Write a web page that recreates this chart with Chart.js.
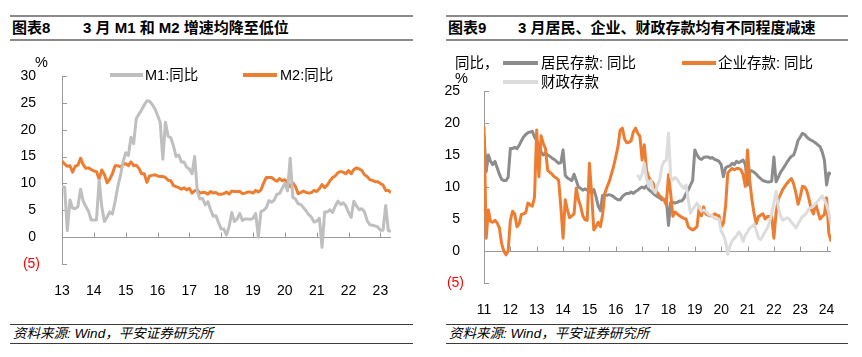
<!DOCTYPE html>
<html><head><meta charset="utf-8">
<script src="https://cdn.jsdelivr.net/npm/chart.js@4"></script>
<style>
html,body{margin:0;padding:0;background:#fff;}
#wrap{position:relative;width:862px;height:357px;overflow:hidden;font-family:"Liberation Sans","Noto Sans CJK SC",sans-serif;color:#000;}
.abs{position:absolute;white-space:nowrap;}
.rule{position:absolute;height:2px;background:#8a8a8a;}
.frule{position:absolute;height:1px;background:#3c3c3c;}
.ttl{position:absolute;font-size:15px;font-weight:bold;line-height:18px;top:19px;white-space:nowrap;}
.foot{position:absolute;font-size:13.5px;font-style:italic;line-height:16px;top:326px;white-space:nowrap;color:#000;}
.lg{position:absolute;font-size:14.5px;line-height:18px;white-space:nowrap;}
.ln{position:absolute;height:4px;}
canvas{position:absolute;top:0;}
</style></head>
<body><div id="wrap">
<div class="rule" style="left:10px;width:403px;top:15px"></div>
<div class="rule" style="left:10px;width:403px;top:39px"></div>
<div class="rule" style="left:446px;width:402px;top:15px"></div>
<div class="rule" style="left:446px;width:402px;top:39px"></div>
<div class="ttl" style="left:12px">图表8</div>
<div class="ttl" style="left:83px">3 月 M1 和 M2 增速均降至低位</div>
<div class="ttl" style="left:448px">图表9</div>
<div class="ttl" style="left:518px">3 月居民、企业、财政存款均有不同程度减速</div>

<canvas id="c1" width="430" height="300" style="left:0px"></canvas>
<canvas id="c2" width="432" height="320" style="left:430px"></canvas>

<div class="lg" style="left:35px;top:53px">%</div>
<div class="ln" style="left:110px;top:73px;width:33px;background:#BFBFBF"></div>
<div class="lg" style="left:145px;top:66px">M1:同比</div>
<div class="ln" style="left:243px;top:73px;width:34px;background:#ED7D31"></div>
<div class="lg" style="left:280px;top:66px">M2:同比</div>

<div class="lg" style="left:455px;top:54px">同比，</div>
<div class="lg" style="left:455px;top:69px">%</div>
<div class="ln" style="left:503px;top:61px;width:35px;background:#8C8C8C"></div>
<div class="lg" style="left:541px;top:54px">居民存款: 同比</div>
<div class="ln" style="left:682px;top:61px;width:34px;background:#ED7D31"></div>
<div class="lg" style="left:718px;top:54px">企业存款: 同比</div>
<div class="ln" style="left:503px;top:80px;width:35px;background:#DCDCDC"></div>
<div class="lg" style="left:541px;top:73px">财政存款</div>

<div class="frule" style="left:10px;width:403px;top:324px"></div>
<div class="frule" style="left:10px;width:403px;top:343px"></div>
<div class="frule" style="left:446px;width:402px;top:324px"></div>
<div class="frule" style="left:446px;width:402px;top:343px"></div>
<div class="foot" style="left:13px">资料来源: Wind，平安证券研究所</div>
<div class="foot" style="left:449px">资料来源: Wind，平安证券研究所</div>
</div>
<script>
// ---------- Chart 8 data (monthly, starting Nov 2013) ----------
const leftYearLabels = ['13','14','15','16','17','18','19','20','21','22','23'];
const m1Yoy = [
 9.4, 9.3,
 1.2, 6.9, 5.4, 5.3, 5.7, 8.9, 6.7, 5.7, 4.8, 3.2, 3.2, 3.2,
 10.6, 5.6, 2.9, 3.7, 4.7, 4.3, 6.6, 9.3, 11.4, 14.0, 15.7, 15.2,
 18.6, 17.4, 22.1, 22.9, 23.7, 24.6, 25.4, 25.3, 24.7, 23.9, 22.7, 21.4,
 14.5, 21.4, 18.8, 18.5, 17.0, 15.0, 15.3, 14.0, 14.0, 13.0, 12.7, 11.8,
 15.0, 8.5, 7.1, 7.2, 6.0, 6.6, 5.1, 3.9, 4.0, 2.7, 1.5, 1.5,
 0.4, 2.0, 4.6, 2.9, 3.4, 4.4, 3.1, 3.4, 3.4, 3.3, 3.5, 4.4,
 0.0, 4.8, 5.0, 5.5, 6.8, 6.5, 6.9, 8.0, 8.1, 9.1, 10.0, 8.6,
 14.7, 7.4, 7.1, 6.2, 6.1, 5.5, 4.9, 4.2, 3.7, 2.8, 3.0, 3.5,
 -1.9, 4.7, 4.7, 5.1, 4.6, 5.8, 6.7, 6.1, 6.4, 5.8, 4.6, 3.7,
 6.7, 5.8, 5.1, 5.3, 4.7, 3.1, 2.3, 2.2, 2.1, 1.9, 1.3, 1.3,
 5.9, 1.2, 1.1
];
const m2Yoy = [
 14.2, 13.6,
 13.2, 13.3, 12.1, 13.2, 13.4, 14.7, 13.5, 12.8, 12.9, 12.6, 12.3, 12.2,
 10.8, 12.5, 11.6, 10.1, 10.8, 11.8, 13.3, 13.3, 13.1, 13.5, 13.7, 13.3,
 14.0, 13.3, 13.4, 12.8, 11.8, 11.8, 10.2, 11.4, 11.5, 11.6, 11.4, 11.3,
 11.3, 11.1, 10.6, 10.5, 9.6, 9.4, 9.2, 8.9, 9.2, 8.8, 9.1, 8.2,
 8.6, 8.8, 8.2, 8.3, 8.3, 8.0, 8.5, 8.2, 8.3, 8.0, 8.0, 8.1,
 8.4, 8.0, 8.6, 8.5, 8.5, 8.5, 8.1, 8.2, 8.4, 8.4, 8.2, 8.7,
 8.4, 8.8, 10.1, 11.1, 11.1, 11.1, 10.7, 10.4, 10.9, 10.5, 10.7, 10.1,
 9.4, 10.1, 9.4, 8.1, 8.3, 8.6, 8.3, 8.2, 8.3, 8.7, 8.5, 9.0,
 9.8, 9.2, 9.7, 10.5, 11.1, 11.4, 12.0, 12.2, 12.1, 11.8, 12.4, 11.8,
 12.6, 12.9, 12.7, 12.4, 11.6, 11.3, 10.7, 10.6, 10.3, 10.3, 10.0, 9.7,
 8.7, 8.7, 8.3
];

// ---------- Chart 9 data (monthly, starting Jan 2011) ----------
const rightYearLabels = ['11','12','13','14','15','16','17','18','19','20','21','22','23','24'];
const householdDep = [
 18.1,12.4,15,14,13.5,14,13,12,11.2,11,11,11.5,
 16,16,16.2,16,16.5,17.2,17.8,18.2,18.5,18.6,18.7,17.8,
 17.3,16.5,15.5,15,15.3,15,14.8,14.5,14.3,14,13.7,13.8,
 15.8,11.8,11.4,11.2,11,12,11,10,9.8,9.5,9.7,9.5,
 9.3,9,9.6,8.5,7,6.3,8.7,8.8,8.7,8.8,8.7,8.5,
 8.2,8,8,8.5,8.8,9,9,9.2,9,9.3,9.5,9.8,
 10,9.8,10.2,9.6,9.3,9,8.7,8.5,8.3,8,8,8.2,
 4,7.6,7.6,7.5,7.6,7.8,7.8,8.2,9,9.5,10.3,11,
 15.8,15,14.5,14.3,14.6,14.7,14.7,14.5,14.6,14.3,14.2,14,
 13.5,11.6,13,13.2,13.3,13.7,13.5,14,13.8,14,14.2,13.5,
 10.3,12.6,12.5,12.3,12,11.6,11.3,11,10.9,10.8,10.8,10.9,
 14.7,10.8,11.5,12.3,12.8,13.3,13.9,14.4,14.8,15,16,17.3,
 17.8,18.4,18.2,17.8,17.5,17.3,17.1,16.9,16.6,16.3,15.5,14.2,
 10.3,12.2,12
];
const corporateDep = [
 19.5,2,6.4,4.6,4.5,4.8,4.4,3.6,1.2,0,-0.6,0,
 4.8,6.2,5.8,3.8,4.2,5.7,5.8,6,7.5,7.2,7,8.4,
 18.9,11.6,18,16.8,16,12.6,12.3,12,11.6,11.4,11,6.9,
 2,8,6.4,5.2,5.5,5.8,9.8,8,7,5.5,4.9,4.8,
 13.7,9,3.3,3.8,4.5,3.8,5.7,9,10,10.8,12,13.2,
 14.7,16.3,18.9,19.2,17.5,16.9,17,17.2,18.6,19.2,18.4,17.9,
 14.2,16.6,12.6,11.5,11,10.6,9.5,9.1,8.6,8.3,8,7.2,
 11.9,9,5.4,6.1,5.8,5.5,5.3,5.1,5,3.8,3.5,3.3,
 3.5,3.8,6.9,5.5,6.9,5.8,5.6,5.5,5.5,5.8,5.6,5.5,
 3.8,4.3,7,12.2,12.6,12.9,12.7,12.9,12.9,12.7,11.9,10.1,
 15.8,11,8,5.8,4.3,5.4,5.6,5.8,5,5.4,5.4,5.4,
 2,6,8.1,8.8,9.6,10.1,10.6,11,11.3,10.5,9.1,7.3,
 8.5,10.1,10,9.4,8.1,6.5,5.8,7.4,6.2,5,5.4,5.7,
 8.3,2.8,1.5
];
const fiscalStartMonth = 70; // series begins at month index 70 (Nov 2016)
const fiscalDep = [
 11.9,11.2,12,13.7,11.3,10.1,11,9.6,9.1,10.3,11.1,13.2,14,14.2,
 18.4,11.6,11.1,11.5,11.2,10.6,10.2,9.8,10.3,8,5.9,6.5,
 7,7.5,6.8,6.2,6.4,6.2,5.8,5.6,5.5,5.1,5,5,
 3.1,2.5,1.5,-0.5,0.8,1.6,2,2.4,3,2.5,1.5,2.5,
 3,3.6,3.8,4.2,3.2,2,1.8,2.4,3,3.6,4.5,5.8,
 7.5,9.3,6.9,5.5,4.8,5,5.2,5,4.5,4.1,3.6,4.2,
 4.8,5.4,5.6,6,6.6,6.8,7,7.4,7.8,8.2,8.6,8,
 7.2,6,4.2
];

const FONT = '"Liberation Sans", "Noto Sans CJK SC", sans-serif';
const pts = (arr, start) => arr.map((v, i) => ({x: (start || 0) + i, y: v}));

const axisDeco = {
  id: 'axisDeco',
  beforeDatasetsDraw(chart) {
    const {ctx, chartArea, scales: {x, y}} = chart;
    const y0 = Math.round(y.getPixelForValue(0)) + 0.5;
    ctx.save();
    ctx.strokeStyle = '#9a9a9a';
    ctx.lineWidth = 1;
    ctx.beginPath();
    ctx.moveTo(chartArea.left, y0);
    ctx.lineTo(chartArea.right, y0);
    x.ticks.forEach(t => {
      const px = Math.round(x.getPixelForValue(t.value)) + 0.5;
      ctx.moveTo(px, y0); ctx.lineTo(px, y0 - 5);
    });
    y.ticks.forEach(t => {
      const py = Math.round(y.getPixelForValue(t.value)) + 0.5;
      ctx.moveTo(chartArea.left, py); ctx.lineTo(chartArea.left + 5, py);
    });
    ctx.stroke();
    ctx.restore();
  }
};

function makeChart(id, cfg) {
  const yearStep = 12;
  return new Chart(document.getElementById(id), {
    type: 'line',
    data: {datasets: cfg.datasets},
    options: {
      responsive: false, animation: false, devicePixelRatio: 1,
      layout: {padding: cfg.padding},
      plugins: {legend: {display: false}, tooltip: {enabled: false}},
      elements: {point: {radius: 0}, line: {tension: 0, borderJoinStyle: 'round', borderCapStyle: 'butt'}},
      scales: {
        x: {
          type: 'linear', min: 0, max: cfg.xMax,
          grid: {display: false}, border: {display: false},
          afterBuildTicks: s => { s.ticks = cfg.xLabels.map((_, k) => ({value: k * yearStep})); },
          afterFit: s => { s.height = cfg.xHeight; },
          ticks: {autoSkip: false, maxRotation: 0, padding: 11, color: '#000',
            font: {family: FONT, size: 14},
            callback: (v) => cfg.xLabels[Math.round(v / yearStep)]}
        },
        y: {
          min: -5, max: cfg.yMax,
          grid: {display: false},
          border: {display: true, color: '#9a9a9a', width: 1},
          afterBuildTicks: s => { const t = []; for (let v = -5; v <= cfg.yMax; v += 5) t.push({value: v}); s.ticks = t; },
          afterFit: s => { s.width = cfg.yWidth; },
          ticks: {padding: cfg.yPad, font: {family: FONT, size: 14},
            color: c => (c.tick && c.tick.value < 0) ? '#FF0000' : '#000',
            callback: v => v < 0 ? '(' + Math.abs(v) + ')' : v + ' '}
        }
      }
    },
    plugins: [axisDeco]
  });
}

makeChart('c1', {
  xLabels: leftYearLabels, xMax: m1Yoy.length - 1, yMax: 30,
  padding: {top: 76, right: 39, left: 0, bottom: 0},
  yWidth: 62, yPad: 14, xHeight: 36,
  datasets: [
    {label: 'M1:同比', data: pts(m1Yoy), borderColor: '#BFBFBF', borderWidth: 3},
    {label: 'M2:同比', data: pts(m2Yoy), borderColor: '#ED7D31', borderWidth: 3}
  ]
});

makeChart('c2', {
  xLabels: rightYearLabels, xMax: householdDep.length - 1, yMax: 25,
  padding: {top: 91, right: 31, left: 0, bottom: 0},
  yWidth: 54, yPad: 12, xHeight: 37,
  datasets: [
    {label: '居民存款: 同比', data: pts(householdDep), borderColor: '#8C8C8C', borderWidth: 3, order: 2},
    {label: '企业存款: 同比', data: pts(corporateDep), borderColor: '#ED7D31', borderWidth: 3, order: 1},
    {label: '财政存款', data: pts(fiscalDep, fiscalStartMonth), borderColor: '#DCDCDC', borderWidth: 3, order: 0}
  ]
});
</script>
</body></html>
